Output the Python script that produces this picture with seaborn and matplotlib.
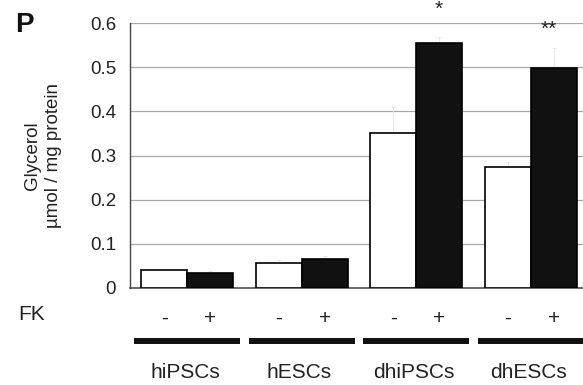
import matplotlib
matplotlib.use("Agg")
import matplotlib.pyplot as plt
import matplotlib.transforms as mtransforms
import seaborn as sns
import pandas as pd

cells = ["hiPSCs", "hESCs", "dhiPSCs", "dhESCs"]
fk_levels = ["-", "+"]
glycerol_minus = [0.040, 0.056, 0.350, 0.273]
glycerol_plus = [0.034, 0.066, 0.555, 0.498]
err_minus = [0.004, 0.008, 0.060, 0.012]
err_plus = [0.004, 0.006, 0.014, 0.045]
yticks = [0, 0.1, 0.2, 0.3, 0.4, 0.5, 0.6]
ytick_labels = ["0", "0.1", "0.2", "0.3", "0.4", "0.5", "0.6"]
signif = {"dhiPSCs": "*", "dhESCs": "**"}

rows = []
for i, c in enumerate(cells):
    rows.append({"cell": c, "FK": "-", "glycerol": glycerol_minus[i], "err": err_minus[i]})
    rows.append({"cell": c, "FK": "+", "glycerol": glycerol_plus[i], "err": err_plus[i]})
df = pd.DataFrame(rows)

sns.set_theme(style="white")
plt.rcParams["font.family"] = ["Liberation Sans", "DejaVu Sans"]

fig = plt.figure(figsize=(5.83, 3.85), dpi=100)
ax = fig.add_axes([130 / 583, 1 - 288 / 385, 458 / 583, 265 / 385])

sns.barplot(data=df, x="cell", y="glycerol", hue="FK", order=cells, hue_order=fk_levels,
            palette={"-": "white", "+": "#111111"}, edgecolor="black", linewidth=1.2,
            width=0.8, errorbar=None, legend=False, ax=ax, zorder=3)

# faint error bars from patch centers
for p in ax.patches:
    h = p.get_height()
    if h <= 0:
        continue
    xc = p.get_x() + p.get_width() / 2
    hit = df[(df["glycerol"] - h).abs() < 1e-9]
    e = float(hit["err"].iloc[0])
    ax.errorbar(xc, h, yerr=e, color="#e4e4e4", lw=0.6, capsize=1.5, capthick=0.6, zorder=2)

ax.set_xlim(-0.5, 3.5)
ax.set_ylim(0, 0.6)
ax.set_yticks(yticks)
ax.set_yticklabels(ytick_labels, fontsize=13.5, color="#222222")
ax.tick_params(axis="y", direction="out", length=4, width=0.8, color="#777777", pad=6)
ax.set_xticks([0.5, 1.5, 2.5])
ax.set_xticklabels([])
ax.tick_params(axis="x", direction="in", length=3, width=0.8, color="#555555")
ax.set_xlabel("")
ax.grid(axis="y", color="#a8a8a8", lw=0.9, zorder=0)
ax.set_axisbelow(True)
for s in ["top", "right"]:
    ax.spines[s].set_visible(False)
ax.spines["left"].set_color("#444444")
ax.spines["left"].set_linewidth(1.0)
ax.spines["bottom"].set_color("#444444")
ax.spines["bottom"].set_linewidth(1.1)

ax.set_ylabel("Glycerol\nµmol / mg protein", fontsize=13.5, color="#222222", linespacing=1.35)
ax.yaxis.set_label_coords(-0.148, 0.5)

# significance marks
for i, c in enumerate(cells):
    if c in signif:
        ypos = 0.630 if signif[c] == "*" else 0.585
        xoff = 0.2 if signif[c] == "*" else 0.16
        ax.text(i + xoff, ypos, signif[c], ha="center", va="center", fontsize=15,
                color="#222222", clip_on=False)

# FK row, bars underneath groups, group labels
trans = mtransforms.blended_transform_factory(ax.transData, ax.transAxes)
fig.text(18 / 583, 1 - 315 / 385, "FK", ha="left", va="center", fontsize=15, color="#222222")
for i, c in enumerate(cells):
    for j, lvl in enumerate(fk_levels):
        ax.text(i - 0.2 + 0.4 * j, -0.115, lvl, transform=trans, ha="center", va="center",
                fontsize=15, color="#222222", clip_on=False)
    ax.plot([i - 0.465, i + 0.465], [-0.2, -0.2], transform=trans, color="#111111",
            lw=4.3, solid_capstyle="butt", clip_on=False)
    ax.text(i - 0.02, -0.317, c, transform=trans, ha="center", va="center",
            fontsize=15, color="#222222", clip_on=False)

fig.text(15 / 583, 1 - 12 / 385, "P", ha="left", va="top", fontsize=20,
         fontweight="bold", color="#111111")

fig.savefig("out.png", dpi=100)
